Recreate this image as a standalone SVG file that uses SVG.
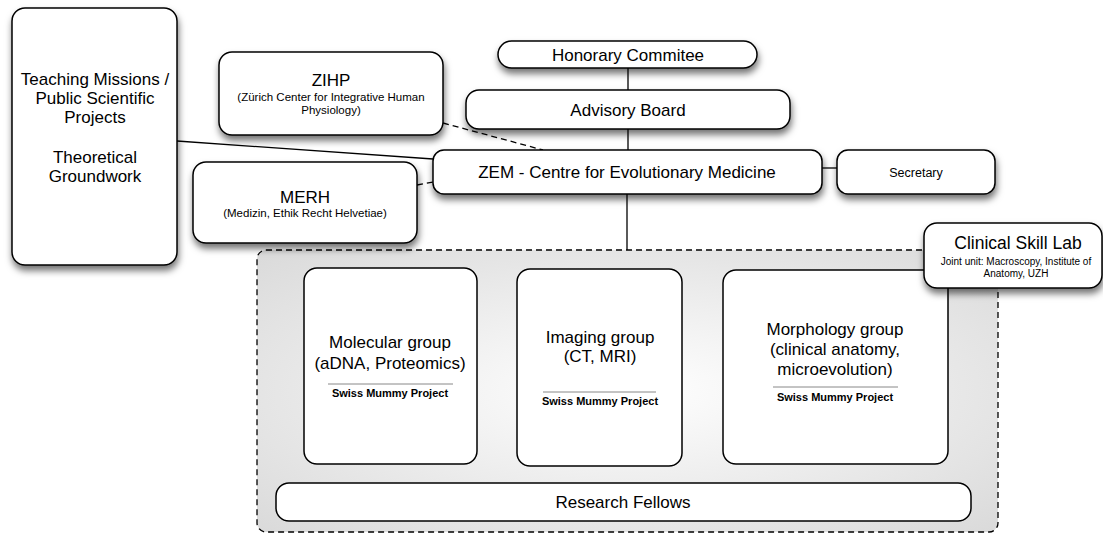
<svg xmlns="http://www.w3.org/2000/svg" width="1103" height="535" viewBox="0 0 1103 535">
  <style>
    .box { fill: #ffffff; stroke: #000000; stroke-width: 1.5; }
    .sh { filter: url(#shadow); }
    .t { font-family: "Liberation Sans", Arial, sans-serif; fill: #000000; text-anchor: middle; }
    .l17 { font-size: 17px; }
    .s11 { font-size: 11.5px; }
    .s10 { font-size: 10px; }
    .b11 { font-size: 11px; font-weight: bold; }
    .conn { stroke: #000000; stroke-width: 1.3; fill: none; }
    .dash { stroke-dasharray: 6 4; }
    .rule { stroke: #888888; stroke-width: 1; }
  </style>
  <defs>
    <filter id="shadow" x="-20%" y="-20%" width="140%" height="170%">
      <feDropShadow dx="1" dy="5" stdDeviation="3.5" flood-color="#000000" flood-opacity="0.55"/>
    </filter>
    <radialGradient id="bg" cx="50%" cy="50%" r="70%">
      <stop offset="0" stop-color="#ffffff"/>
      <stop offset="1" stop-color="#dadada"/>
    </radialGradient>
  </defs>

  <rect width="1103" height="535" fill="#ffffff"/>

  <g id="research-unit">
    <rect x="257" y="250" width="741" height="282" rx="9" fill="url(#bg)" stroke="#000000" stroke-width="1.3" stroke-dasharray="6 4"/>
  </g>

  <g id="connectors">
    <line class="conn" x1="628" y1="68" x2="628" y2="90"/>
    <line class="conn" x1="628" y1="129" x2="628" y2="150"/>
    <line class="conn" x1="627" y1="194" x2="627" y2="250"/>
    <line class="conn" x1="822" y1="168" x2="837" y2="168"/>
    <line class="conn" x1="177" y1="141" x2="433" y2="159"/>
    <line class="conn dash" x1="443" y1="123" x2="543" y2="150"/>
    <line class="conn dash" x1="417" y1="185" x2="433" y2="182"/>
  </g>

  <g id="teaching">
    <rect class="box sh" x="12" y="8" width="165" height="257" rx="13"/>
    <text class="t l17" x="95" y="85">Teaching Missions /</text>
    <text class="t l17" x="95" y="104">Public Scientific</text>
    <text class="t l17" x="95" y="123">Projects</text>
    <text class="t l17" x="95" y="163">Theoretical</text>
    <text class="t l17" x="95" y="182">Groundwork</text>
  </g>

  <g id="zihp">
    <rect class="box sh" x="219" y="52" width="224" height="83" rx="13"/>
    <text class="t l17" x="331" y="86">ZIHP</text>
    <text class="t s11" x="331" y="101">(Zürich Center for Integrative Human</text>
    <text class="t s11" x="331" y="114">Physiology)</text>
  </g>

  <g id="merh">
    <rect class="box sh" x="193" y="162" width="224" height="81" rx="13"/>
    <text class="t l17" x="305" y="203">MERH</text>
    <text class="t s11" x="305" y="217">(Medizin, Ethik Recht Helvetiae)</text>
  </g>

  <g id="honorary">
    <rect class="box sh" x="498" y="41" width="259" height="27" rx="13.5"/>
    <text class="t l17" x="628" y="60.5">Honorary Commitee</text>
  </g>

  <g id="advisory">
    <rect class="box sh" x="466" y="90" width="324" height="39" rx="13"/>
    <text class="t l17" x="628" y="115.5">Advisory Board</text>
  </g>

  <g id="zem">
    <rect class="box sh" x="433" y="150" width="389" height="44" rx="11"/>
    <text class="t l17" x="627" y="178">ZEM - Centre for Evolutionary Medicine</text>
  </g>

  <g id="secretary">
    <rect class="box sh" x="837" y="150" width="158" height="44" rx="11"/>
    <text class="t" font-size="12.5" x="916" y="176.5">Secretary</text>
  </g>

  <g id="molecular">
    <rect class="box" x="304" y="268" width="173" height="196" rx="13"/>
    <text class="t l17" x="390" y="348">Molecular group</text>
    <text class="t l17" x="390" y="369">(aDNA, Proteomics)</text>
    <line class="rule" x1="328" y1="384" x2="453" y2="384"/>
    <text class="t b11" x="390" y="397">Swiss Mummy Project</text>
  </g>

  <g id="imaging">
    <rect class="box" x="517" y="269" width="165" height="197" rx="13"/>
    <text class="t l17" x="600" y="343">Imaging group</text>
    <text class="t l17" x="600" y="362">(CT, MRI)</text>
    <line class="rule" x1="543" y1="392" x2="656" y2="392"/>
    <text class="t b11" x="600" y="405">Swiss Mummy Project</text>
  </g>

  <g id="morphology">
    <rect class="box" x="723" y="270" width="225" height="194" rx="13"/>
    <text class="t l17" x="835" y="335">Morphology group</text>
    <text class="t l17" x="835" y="355">(clinical anatomy,</text>
    <text class="t l17" x="835" y="375">microevolution)</text>
    <line class="rule" x1="773" y1="387" x2="898" y2="387"/>
    <text class="t b11" x="835" y="401">Swiss Mummy Project</text>
  </g>

  <g id="research-fellows">
    <rect class="box" x="276" y="483" width="695" height="38" rx="13"/>
    <text class="t l17" x="623" y="508">Research Fellows</text>
  </g>

  <g id="clinical-skill-lab">
    <rect class="box sh" x="924" y="223" width="178" height="65" rx="13"/>
    <text class="t" font-size="17.5" x="1018" y="249">Clinical Skill Lab</text>
    <text class="t s10" x="1016" y="264.5">Joint unit: Macroscopy, Institute of</text>
    <text class="t s10" x="1016" y="276.5">Anatomy, UZH</text>
  </g>
</svg>
